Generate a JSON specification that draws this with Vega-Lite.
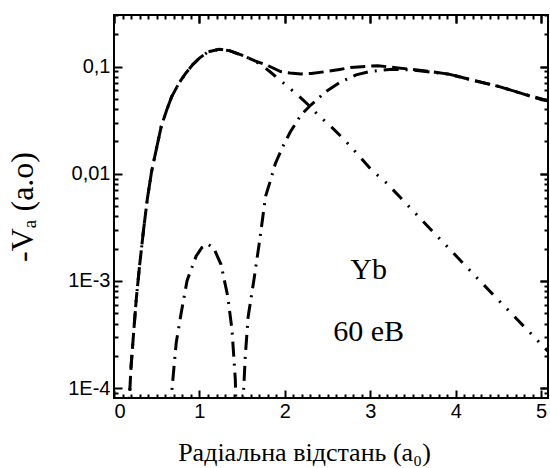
{
  "$schema": "https://vega.github.io/schema/vega-lite/v6.json",
  "width": 434,
  "height": 383,
  "autosize": {"type": "none"},
  "padding": {"left": 114, "top": 15, "right": 2, "bottom": 70},
  "background": "white",
  "config": {
    "view": {"stroke": "black", "strokeWidth": 2},
    "axis": {"grid": false, "domain": false, "labelColor": "black", "titleColor": "black"}
  },
  "data": {"values": [
    {"s": "T", "x": 0.17, "v": 6e-5}, {"s": "T", "x": 0.182, "v": 8.5e-5}, {"s": "T", "x": 0.2, "v": 1.6e-4}, {"s": "T", "x": 0.23, "v": 3.3e-4}, {"s": "T", "x": 0.26, "v": 6.7e-4}, {"s": "T", "x": 0.3, "v": 1.4e-3}, {"s": "T", "x": 0.346, "v": 3.0e-3}, {"s": "T", "x": 0.39, "v": 5.8e-3}, {"s": "T", "x": 0.44, "v": 0.0105}, {"s": "T", "x": 0.494, "v": 0.0167}, {"s": "T", "x": 0.553, "v": 0.0276}, {"s": "T", "x": 0.62, "v": 0.04}, {"s": "T", "x": 0.676, "v": 0.0525}, {"s": "T", "x": 0.76, "v": 0.07}, {"s": "T", "x": 0.84, "v": 0.0867}, {"s": "T", "x": 0.92, "v": 0.104}, {"s": "T", "x": 1.0, "v": 0.12}, {"s": "T", "x": 1.1, "v": 0.137}, {"s": "T", "x": 1.23, "v": 0.145}, {"s": "T", "x": 1.35, "v": 0.141}, {"s": "T", "x": 1.54, "v": 0.124}, {"s": "T", "x": 1.65, "v": 0.113}, {"s": "T", "x": 1.78, "v": 0.104}, {"s": "T", "x": 1.95, "v": 0.0898}, {"s": "T", "x": 2.06, "v": 0.087}, {"s": "T", "x": 2.19, "v": 0.0855}, {"s": "T", "x": 2.31, "v": 0.0862}, {"s": "T", "x": 2.48, "v": 0.0898}, {"s": "T", "x": 2.64, "v": 0.094}, {"s": "T", "x": 2.77, "v": 0.098}, {"s": "T", "x": 2.99, "v": 0.101}, {"s": "T", "x": 3.09, "v": 0.102}, {"s": "T", "x": 3.3, "v": 0.0975}, {"s": "T", "x": 3.5, "v": 0.094}, {"s": "T", "x": 3.65, "v": 0.091}, {"s": "T", "x": 3.92, "v": 0.085}, {"s": "T", "x": 4.19, "v": 0.075}, {"s": "T", "x": 4.51, "v": 0.065}, {"s": "T", "x": 4.76, "v": 0.0565}, {"s": "T", "x": 5.01, "v": 0.049}, {"s": "T", "x": 5.08, "v": 0.048},
    {"s": "A", "x": 0.17, "v": 6e-5}, {"s": "A", "x": 0.182, "v": 8.5e-5}, {"s": "A", "x": 0.2, "v": 1.6e-4}, {"s": "A", "x": 0.23, "v": 3.3e-4}, {"s": "A", "x": 0.26, "v": 6.7e-4}, {"s": "A", "x": 0.3, "v": 1.4e-3}, {"s": "A", "x": 0.346, "v": 3.0e-3}, {"s": "A", "x": 0.39, "v": 5.8e-3}, {"s": "A", "x": 0.44, "v": 0.0105}, {"s": "A", "x": 0.494, "v": 0.0167}, {"s": "A", "x": 0.553, "v": 0.0276}, {"s": "A", "x": 0.62, "v": 0.04}, {"s": "A", "x": 0.676, "v": 0.0525}, {"s": "A", "x": 0.76, "v": 0.07}, {"s": "A", "x": 0.84, "v": 0.0867}, {"s": "A", "x": 0.92, "v": 0.104}, {"s": "A", "x": 1.0, "v": 0.12}, {"s": "A", "x": 1.1, "v": 0.137}, {"s": "A", "x": 1.23, "v": 0.145}, {"s": "A", "x": 1.35, "v": 0.141}, {"s": "A", "x": 1.54, "v": 0.124}, {"s": "A", "x": 1.65, "v": 0.112}, {"s": "A", "x": 1.725, "v": 0.104}, {"s": "A", "x": 1.83, "v": 0.089}, {"s": "A", "x": 1.94, "v": 0.075}, {"s": "A", "x": 2.055, "v": 0.063}, {"s": "A", "x": 2.19, "v": 0.0507}, {"s": "A", "x": 2.3, "v": 0.042}, {"s": "A", "x": 2.406, "v": 0.0342}, {"s": "A", "x": 2.52, "v": 0.0286}, {"s": "A", "x": 2.64, "v": 0.023}, {"s": "A", "x": 2.77, "v": 0.018}, {"s": "A", "x": 3.01, "v": 0.0109}, {"s": "A", "x": 3.19, "v": 0.0082}, {"s": "A", "x": 3.5, "v": 0.0045}, {"s": "A", "x": 3.85, "v": 0.0023}, {"s": "A", "x": 4.18, "v": 1.22e-3}, {"s": "A", "x": 4.5, "v": 6.6e-4}, {"s": "A", "x": 4.8, "v": 3.75e-4}, {"s": "A", "x": 5.08, "v": 2.2e-4},
    {"s": "B1", "x": 0.66, "v": 6e-5}, {"s": "B1", "x": 0.669, "v": 8e-5}, {"s": "B1", "x": 0.7, "v": 1.5e-4}, {"s": "B1", "x": 0.728, "v": 2.64e-4}, {"s": "B1", "x": 0.786, "v": 5.0e-4}, {"s": "B1", "x": 0.856, "v": 1.01e-3}, {"s": "B1", "x": 0.961, "v": 1.7e-3}, {"s": "B1", "x": 1.03, "v": 2.05e-3}, {"s": "B1", "x": 1.097, "v": 2.21e-3}, {"s": "B1", "x": 1.17, "v": 2.0e-3}, {"s": "B1", "x": 1.253, "v": 1.42e-3}, {"s": "B1", "x": 1.331, "v": 7.2e-4}, {"s": "B1", "x": 1.381, "v": 3.5e-4}, {"s": "B1", "x": 1.42, "v": 1.2e-4}, {"s": "B1", "x": 1.43, "v": 6e-5},
    {"s": "B2", "x": 1.51, "v": 6e-5}, {"s": "B2", "x": 1.518, "v": 9.8e-5}, {"s": "B2", "x": 1.537, "v": 2.0e-4}, {"s": "B2", "x": 1.57, "v": 4.6e-4}, {"s": "B2", "x": 1.64, "v": 1.05e-3}, {"s": "B2", "x": 1.7, "v": 2.24e-3}, {"s": "B2", "x": 1.775, "v": 6.2e-3}, {"s": "B2", "x": 1.84, "v": 9.1e-3}, {"s": "B2", "x": 1.888, "v": 0.0124}, {"s": "B2", "x": 1.977, "v": 0.018}, {"s": "B2", "x": 2.063, "v": 0.0245}, {"s": "B2", "x": 2.19, "v": 0.0355}, {"s": "B2", "x": 2.307, "v": 0.044}, {"s": "B2", "x": 2.48, "v": 0.0585}, {"s": "B2", "x": 2.64, "v": 0.071}, {"s": "B2", "x": 2.834, "v": 0.0837}, {"s": "B2", "x": 2.99, "v": 0.0898}, {"s": "B2", "x": 3.26, "v": 0.0946}, {"s": "B2", "x": 3.5, "v": 0.093}, {"s": "B2", "x": 3.65, "v": 0.0898}, {"s": "B2", "x": 3.92, "v": 0.085}, {"s": "B2", "x": 4.19, "v": 0.075}, {"s": "B2", "x": 4.51, "v": 0.065}, {"s": "B2", "x": 4.76, "v": 0.0565}, {"s": "B2", "x": 5.08, "v": 0.048},
    {"s": "L", "x": 2.98, "v": 0.00127, "label": "Yb"}, {"s": "L", "x": 2.98, "v": 0.000335, "label": "60 eB"}
  ]},
  "layer": [
    {
      "transform": [{"filter": "datum.s === 'T'"}],
      "mark": {"type": "line", "clip": true, "color": "black", "strokeWidth": 3, "strokeDash": [15, 6]},
      "encoding": {
        "x": {"field": "x", "type": "quantitative", "scale": {"domain": [0, 5.08], "nice": false, "zero": false},
          "axis": {"orient": "bottom", "values": [0, 1, 2, 3, 4, 5], "format": "d", "ticks": true, "tickSize": -8, "tickColor": "black", "tickWidth": 2, "labelFont": "Liberation Sans", "labelFontSize": 20, "labelPadding": 11,
            "title": "Радіальна відстань (a₀)", "titleFont": "Liberation Serif", "titleFontSize": 26, "titleFontWeight": "normal", "titlePadding": 18, "titleX": 190}},
        "y": {"field": "v", "type": "quantitative", "scale": {"type": "log", "domain": [8.07e-5, 0.303], "nice": false},
          "axis": {"orient": "left", "values": [0.0001, 0.001, 0.01, 0.1], "ticks": true, "tickSize": -8, "tickColor": "black", "tickWidth": 2, "labelFont": "Liberation Sans", "labelFontSize": 20, "labelPadding": 12,
            "labelExpr": "datum.value >= 0.05 ? '0,1' : datum.value >= 0.005 ? '0,01' : datum.value >= 0.0005 ? '1E-3' : '1E-4'",
            "title": "-Vₐ (a.o)", "titleFont": "Liberation Serif", "titleFontSize": 32, "titleFontWeight": "normal", "titlePadding": 28}}
      }
    },
    {
      "transform": [{"filter": "datum.s === 'A'"}],
      "mark": {"type": "line", "clip": true, "color": "black", "strokeWidth": 3, "strokeDash": [13, 9, 2, 9, 2, 9]},
      "encoding": {
        "x": {"field": "x", "type": "quantitative", "scale": {"domain": [0, 5.08], "nice": false, "zero": false},
          "axis": {"orient": "bottom", "values": [0.1,0.2,0.3,0.4,0.5,0.6,0.7,0.8,0.9,1.1,1.2,1.3,1.4,1.5,1.6,1.7,1.8,1.9,2.1,2.2,2.3,2.4,2.5,2.6,2.7,2.8,2.9,3.1,3.2,3.3,3.4,3.5,3.6,3.7,3.8,3.9,4.1,4.2,4.3,4.4,4.5,4.6,4.7,4.8,4.9], "labels": false, "tickSize": -4, "tickColor": "black", "tickWidth": 2, "title": null}},
        "y": {"field": "v", "type": "quantitative", "scale": {"type": "log", "domain": [8.07e-5, 0.303], "nice": false},
          "axis": {"orient": "left", "values": [0.00009,0.0002,0.0003,0.0004,0.0005,0.0006,0.0007,0.0008,0.0009,0.002,0.003,0.004,0.005,0.006,0.007,0.008,0.009,0.02,0.03,0.04,0.05,0.06,0.07,0.08,0.09,0.2,0.3], "labels": false, "tickSize": -4, "tickColor": "black", "tickWidth": 2, "title": null}}
      }
    },
    {
      "transform": [{"filter": "datum.s === 'B1'"}],
      "mark": {"type": "line", "clip": true, "color": "black", "strokeWidth": 3, "strokeDash": [15, 7, 2, 7]},
      "encoding": {
        "x": {"field": "x", "type": "quantitative", "scale": {"domain": [0, 5.08], "nice": false, "zero": false},
          "axis": {"orient": "top", "values": [0, 1, 2, 3, 4, 5], "labels": false, "tickSize": -8, "tickColor": "black", "tickWidth": 2, "title": null}},
        "y": {"field": "v", "type": "quantitative", "scale": {"type": "log", "domain": [8.07e-5, 0.303], "nice": false},
          "axis": {"orient": "right", "values": [0.0001, 0.001, 0.01, 0.1], "labels": false, "tickSize": -8, "tickColor": "black", "tickWidth": 2, "title": null}}
      }
    },
    {
      "transform": [{"filter": "datum.s === 'B2'"}],
      "mark": {"type": "line", "clip": true, "color": "black", "strokeWidth": 3, "strokeDash": [15, 7, 2, 7]},
      "encoding": {
        "x": {"field": "x", "type": "quantitative", "scale": {"domain": [0, 5.08], "nice": false, "zero": false},
          "axis": {"orient": "top", "values": [0.1,0.2,0.3,0.4,0.5,0.6,0.7,0.8,0.9,1.1,1.2,1.3,1.4,1.5,1.6,1.7,1.8,1.9,2.1,2.2,2.3,2.4,2.5,2.6,2.7,2.8,2.9,3.1,3.2,3.3,3.4,3.5,3.6,3.7,3.8,3.9,4.1,4.2,4.3,4.4,4.5,4.6,4.7,4.8,4.9], "labels": false, "tickSize": -4, "tickColor": "black", "tickWidth": 2, "title": null}},
        "y": {"field": "v", "type": "quantitative", "scale": {"type": "log", "domain": [8.07e-5, 0.303], "nice": false},
          "axis": {"orient": "right", "values": [0.00009,0.0002,0.0003,0.0004,0.0005,0.0006,0.0007,0.0008,0.0009,0.002,0.003,0.004,0.005,0.006,0.007,0.008,0.009,0.02,0.03,0.04,0.05,0.06,0.07,0.08,0.09,0.2,0.3], "labels": false, "tickSize": -4, "tickColor": "black", "tickWidth": 2, "title": null}}
      }
    },
    {
      "transform": [{"filter": "datum.s === 'L'"}],
      "mark": {"type": "text", "font": "Liberation Serif", "fontSize": 30, "color": "black", "baseline": "middle", "align": "center"},
      "encoding": {
        "x": {"field": "x", "type": "quantitative", "scale": {"domain": [0, 5.08], "nice": false, "zero": false},
          "axis": {"orient": "top", "values": [0, 1, 2, 3, 4, 5], "labels": false, "tickSize": -8, "tickColor": "black", "tickWidth": 2, "title": null}},
        "y": {"field": "v", "type": "quantitative", "scale": {"type": "log", "domain": [8.07e-5, 0.303], "nice": false},
          "axis": {"orient": "right", "values": [0.0001, 0.001, 0.01, 0.1], "labels": false, "tickSize": -8, "tickColor": "black", "tickWidth": 2, "title": null}},
        "text": {"field": "label"}
      }
    }
  ],
  "resolve": {"axis": {"x": "independent", "y": "independent"}}
}
